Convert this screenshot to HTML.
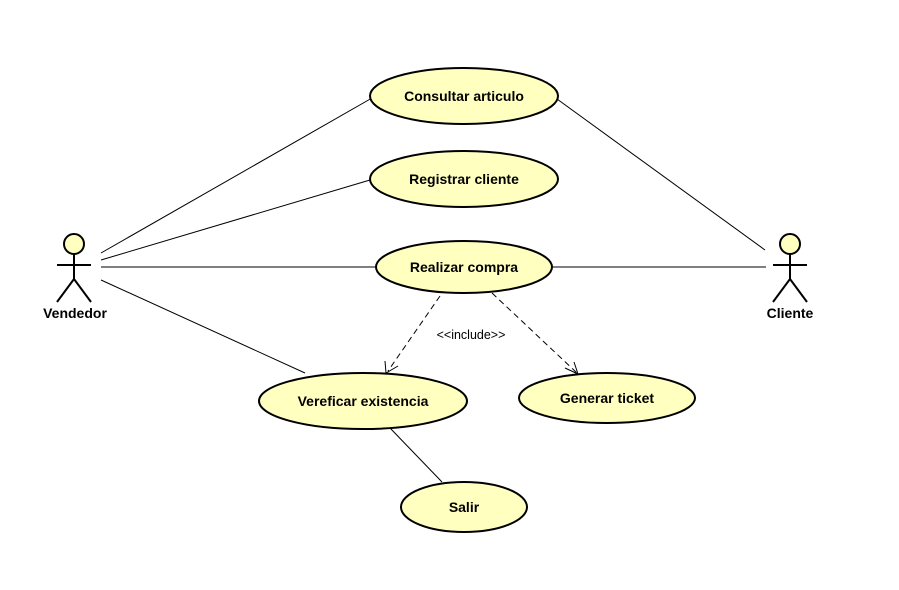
<!DOCTYPE html>
<html><head><style>body{margin:0;background:#fff}svg{display:block}</style></head>
<body>
<svg width="899" height="590" xmlns="http://www.w3.org/2000/svg" font-family="Liberation Sans, sans-serif">
<rect width="899" height="590" fill="#fff"/>
<g stroke="#000" stroke-width="1" fill="none">
<line x1="101" y1="253" x2="372" y2="98"/>
<line x1="101" y1="260" x2="370" y2="180"/>
<line x1="101" y1="267" x2="376" y2="267"/>
<line x1="101" y1="280" x2="305" y2="373"/>
<line x1="557" y1="99" x2="765" y2="250"/>
<line x1="552" y1="267" x2="766" y2="267"/>
<line x1="390" y1="428" x2="442" y2="482"/>
<g stroke-dasharray="6,4">
<line x1="440" y1="296" x2="388" y2="371"/>
<line x1="492" y1="293" x2="577" y2="373"/>
</g>
<polyline points="385,361 386,373 398,366"/>
<polyline points="565,368 578,374 574,362"/>
</g>
<g fill="#ffffc0" stroke="#000" stroke-width="2">
<ellipse cx="464" cy="96" rx="94" ry="28"/>
<ellipse cx="464" cy="179" rx="94" ry="28"/>
<ellipse cx="464" cy="267" rx="88" ry="26"/>
<ellipse cx="363" cy="401" rx="104" ry="28"/>
<ellipse cx="607" cy="398" rx="88" ry="25"/>
<ellipse cx="464" cy="507" rx="63" ry="25"/>
</g>
<g stroke="#000" stroke-width="2">
<circle cx="74" cy="244" r="10" fill="#ffffc0"/>
<line x1="74" y1="254" x2="74" y2="279"/>
<line x1="57" y1="265" x2="91" y2="265"/>
<line x1="74" y1="279" x2="57" y2="302"/>
<line x1="74" y1="279" x2="91" y2="302"/>
<circle cx="790" cy="244" r="10" fill="#ffffc0"/>
<line x1="790" y1="254" x2="790" y2="279"/>
<line x1="773" y1="265" x2="807" y2="265"/>
<line x1="790" y1="279" x2="773" y2="302"/>
<line x1="790" y1="279" x2="807" y2="302"/>
</g>
<g font-size="14" font-weight="bold" text-anchor="middle" fill="#000">
<text x="464" y="101">Consultar articulo</text>
<text x="464" y="184">Registrar cliente</text>
<text x="464" y="272">Realizar compra</text>
<text x="363" y="406">Vereficar existencia</text>
<text x="607" y="403">Generar ticket</text>
<text x="464" y="512">Salir</text>
<text x="75" y="318">Vendedor</text>
<text x="790" y="318">Cliente</text>
</g>
<text x="471" y="339" font-size="12.5" text-anchor="middle" fill="#000">&lt;&lt;include&gt;&gt;</text>
</svg>
</body></html>
